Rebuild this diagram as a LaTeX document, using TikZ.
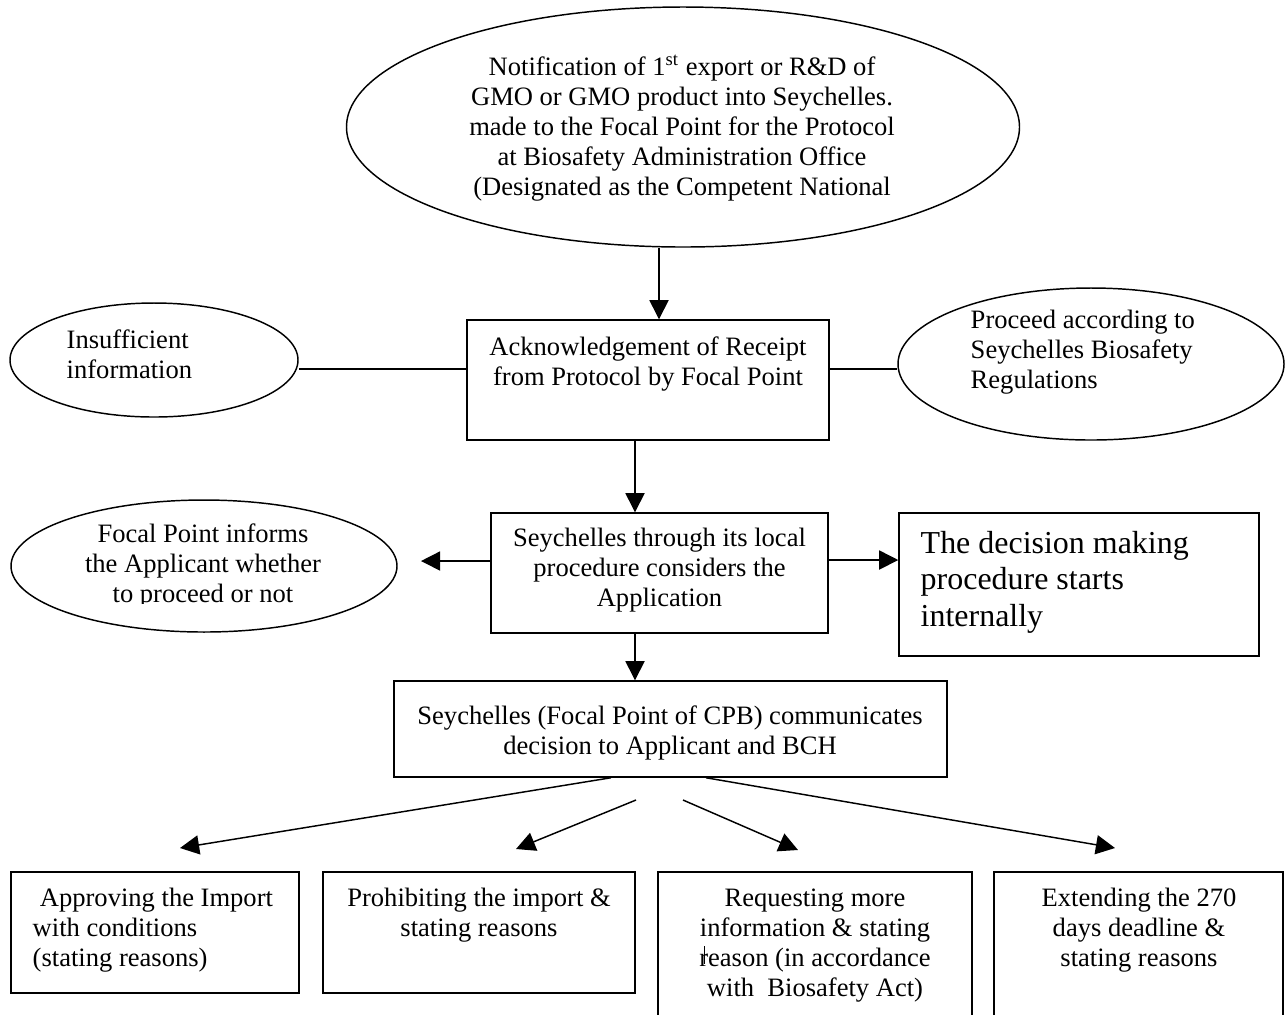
\documentclass[tikz,border=0pt]{standalone}
\usepackage{fontspec}
\setmainfont{Liberation Serif}
\usetikzlibrary{arrows.meta,shapes.geometric,calc}
\newcommand\pxu{0.4444pt}
\begin{document}
\begin{tikzpicture}[x=0.4444pt,y=-0.4444pt,
  line width=0.65pt,
  shp/.style={draw,inner sep=0pt},
  boxA/.style={shp,rectangle},
  ovl/.style={shp,ellipse},
  txt/.style={inner sep=0pt,font=\fontsize{11.8}{13.33}\selectfont},
  bigtxt/.style={inner sep=0pt,font=\fontsize{14.2}{16.2}\selectfont},
  arr/.style={-{Triangle[length=8.5pt,width=8.5pt]}},
]
\useasboundingbox (0,0) rectangle (1287,1014);
\fill[white] (0,0) rectangle (1287,1014);
\clip (0,0) rectangle (1287,1014);

% top ellipse
\node[ovl,minimum width=673*\pxu,minimum height=240*\pxu] (top) at (683,127) {};
\node[txt,align=center] (topT) at (682,128) {Notification of 1\textsuperscript{st} export or R\&D of\\GMO or GMO product into Seychelles.\\made to the Focal Point for the Protocol\\at Biosafety Administration Office\\(Designated as the Competent National};

% acknowledgement
\node[boxA,minimum width=362*\pxu,minimum height=120*\pxu] (ack) at (648,380) {};
\node[txt,align=center] (ackT) at (648,364) {Acknowledgement of Receipt\\from Protocol by Focal Point};

\node[ovl,minimum width=288*\pxu,minimum height=114*\pxu] (ins) at (154,360) {};
\node[txt,align=left,anchor=west] (insT) at (66,354) {Insufficient\\information};

\node[ovl,minimum width=386*\pxu,minimum height=152*\pxu] (prc) at (1091,364) {};
\node[txt,align=left,anchor=west] (prcT) at (970,352) {Proceed according to\\Seychelles Biosafety\\Regulations};

% Seychelles local procedure
\node[boxA,minimum width=337*\pxu,minimum height=120*\pxu] (sey) at (659.5,573) {};
\node[txt,align=center] (seyT) at (659.5,570) {Seychelles through its local\\procedure considers the\\Application};

\node[ovl,minimum width=386*\pxu,minimum height=132*\pxu] (foc) at (204,566) {};
\begin{scope}
\clip (0,0) rectangle (1287,603.5);
\node[txt,align=center] (focT) at (203,566) {Focal Point informs\\the Applicant whether\\to proceed or not};
\end{scope}

\node[boxA,minimum width=360*\pxu,minimum height=143*\pxu] (dec) at (1079,584.5) {};
\node[bigtxt,align=left,anchor=west] (decT) at (920,582) {The decision making\\procedure starts\\internally};

% communication
\node[boxA,minimum width=553*\pxu,minimum height=96*\pxu] (cpb) at (670.5,729) {};
\node[txt,align=center] (cpbT) at (670,733) {Seychelles (Focal Point of CPB) communicates\\decision to Applicant and BCH};

% outcomes
\node[boxA,minimum width=288*\pxu,minimum height=121*\pxu] (b1) at (155,932.5) {};
\node[txt,align=left,anchor=west] (b1T) at (32,930) {\hspace*{3.2pt}Approving the Import\\with conditions\\(stating reasons)};

\node[boxA,minimum width=312*\pxu,minimum height=121*\pxu] (b2) at (479,932.5) {};
\node[txt,align=center] (b2T) at (479,915) {Prohibiting the import \&\\stating reasons};

\node[boxA,minimum width=314*\pxu,minimum height=180*\pxu] (b3) at (815,962) {};
\node[txt,align=center] (b3T) at (815,946) {Requesting more\\information \& stating\\reason (in accordance\\with\ \ Biosafety Act)};
\draw[line width=0.4pt] (704,946) -- (704,964);

\node[boxA,minimum width=289*\pxu,minimum height=180*\pxu] (b4) at (1138.5,962) {};
\node[txt,align=center] (b4T) at (1139,930) {Extending the 270\\days deadline \&\\stating reasons};

% connectors
\draw[arr] ($(top.south)+(-24,0)$) -- ($(ack.north)+(11,0)$);
\draw ($(ack.west)+(0,-11)$) coordinate (aw) -- (aw -| ins.east);
\draw ($(ack.east)+(0,-11)$) coordinate (ae) -- (ae -| prc.west);
\draw[arr] ($(ack.south)+(-13,0)$) -- ($(sey.north)+(-24.5,0)$);
\coordinate (focArr) at (421,561);
\draw[arr] ($(sey.west)+(0,-12)$) -- (focArr);
\draw[arr] ($(sey.east)+(0,-13)$) coordinate (se) -- (se -| dec.west);
\draw[arr] ($(sey.south)+(-24.5,0)$) -- ($(cpb.north)+(-35.5,0)$);

\coordinate (d1) at (180,848);
\coordinate (s2) at (636,800);
\coordinate (d2) at (516,849);
\coordinate (s3) at (683,800);
\coordinate (d3) at (798,850);
\coordinate (d4) at (1115,848);
\draw[arr] ($(cpb.south)+(-59.5,0)$) -- (d1);
\draw[arr] (s2) -- (d2);
\draw[arr] (s3) -- (d3);
\draw[arr] ($(cpb.south)+(35.5,0)$) -- (d4);
\end{tikzpicture}
\end{document}
